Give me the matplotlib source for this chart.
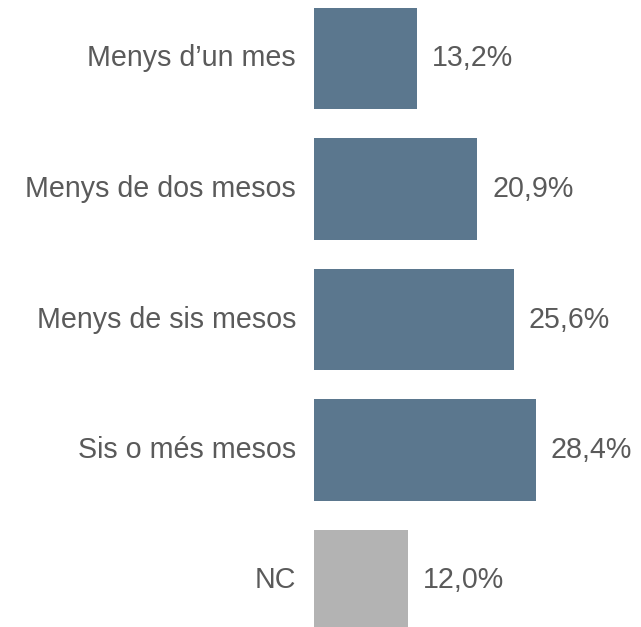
import matplotlib.pyplot as plt

categories = ["Menys d\u2019un mes", "Menys de dos mesos", "Menys de sis mesos", "Sis o més mesos", "NC"]
values = [13.2, 20.9, 25.6, 28.4, 12.0]
colors = ["#5b778e", "#5b778e", "#5b778e", "#5b778e", "#b3b3b3"]
labels = ["13,2%", "20,9%", "25,6%", "28,4%", "12,0%"]

plt.rcParams['font.family'] = ['Liberation Sans', 'DejaVu Sans']
text_color = "#5a5a5a"

fig = plt.figure(figsize=(6.41, 6.27), dpi=100)
ax = fig.add_axes([314 / 641, 0, 327 / 641, 1])

pos = list(range(len(categories)))
ax.barh(pos, values, height=0.774, color=colors)

ax.set_xlim(0, 327 / 7.8)
ax.set_ylim((627 - 58.5) / 130.5, -58.5 / 130.5)

for p, v, lab in zip(pos, values, labels):
    ax.annotate(lab, (v, p), xytext=(11, 0), textcoords="offset points",
                va="center", ha="left", fontsize=20.6, color=text_color)
    ax.annotate(categories[p], (0, p), xytext=(-13, 0), textcoords="offset points",
                va="center", ha="right", fontsize=20.6, color=text_color,
                annotation_clip=False)

ax.axis("off")
fig.savefig("out.png", dpi=100)
